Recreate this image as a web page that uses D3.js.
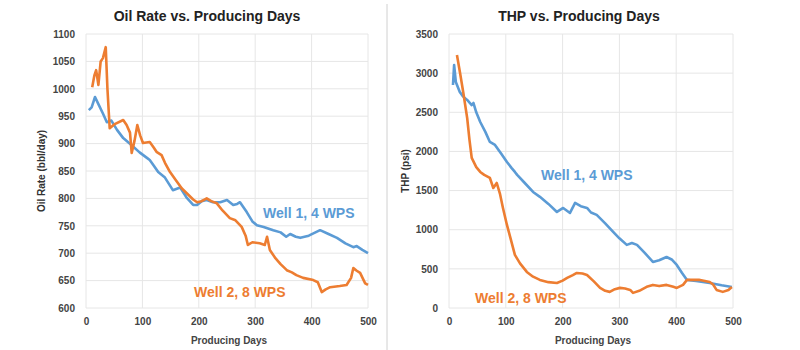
<!DOCTYPE html>
<html>
<head>
<meta charset="utf-8">
<script src="https://cdn.jsdelivr.net/npm/d3@7"></script>
<style>
  body { margin: 0; background: #fff; }
  text { font-family: "Liberation Sans Narrow", "Liberation Sans", Arial, sans-serif; }
</style>
</head>
<body>
<script>
// Data: [producing day, value]
var oilWell1 = [[5,961],[10,966],[16,985],[22,972],[30,955],[37,939],[45,942],[55,925],[66,910],[80,898],[95,884],[108,874],[113,870],[120,860],[128,848],[140,838],[154,815],[167,820],[178,802],[190,788],[197,788],[205,795],[214,797],[225,793],[238,793],[250,797],[261,788],[268,790],[273,793],[285,775],[295,758],[303,751],[315,748],[332,742],[345,738],[355,730],[362,735],[372,730],[380,728],[395,732],[405,737],[415,742],[430,735],[445,728],[460,718],[474,711],[480,713],[490,706],[500,700]];
var oilWell2 = [[11,1003],[15,1025],[18,1034],[22,1007],[26,1050],[30,1056],[35,1076],[38,1000],[42,928],[50,935],[66,943],[72,934],[78,920],[81,883],[86,905],[91,934],[96,915],[101,901],[113,903],[120,893],[125,885],[134,879],[140,865],[149,848],[160,832],[170,818],[180,808],[190,798],[197,793],[205,795],[214,800],[222,795],[232,791],[242,778],[255,764],[265,760],[276,748],[283,732],[287,715],[295,720],[308,718],[317,715],[321,730],[326,706],[335,692],[345,680],[356,669],[365,665],[373,660],[385,655],[403,651],[411,647],[418,629],[425,634],[433,638],[450,640],[462,642],[470,655],[474,673],[480,668],[486,664],[495,645],[500,642]];

var thpWell1 = [[7,2849],[9,3104],[12,2887],[19,2760],[25,2700],[32,2657],[40,2593],[43,2619],[48,2500],[55,2376],[64,2250],[72,2121],[81,2083],[92,1970],[102,1865],[110,1790],[116,1738],[120,1700],[133,1600],[148,1482],[160,1420],[175,1330],[190,1227],[201,1278],[213,1214],[222,1342],[232,1300],[243,1278],[250,1220],[260,1189],[275,1080],[289,972],[300,890],[313,806],[322,830],[331,806],[345,700],[359,589],[370,610],[383,652],[392,620],[401,550],[410,450],[419,359],[435,345],[459,320],[480,290],[498,269]];
var thpWell2 = [[14,3232],[20,2980],[25,2760],[32,2427],[36,2150],[40,1917],[48,1800],[55,1738],[62,1700],[72,1661],[78,1533],[84,1597],[90,1450],[95,1278],[102,1061],[108,900],[116,678],[125,570],[137,461],[148,400],[160,359],[175,330],[190,320],[200,350],[208,384],[218,420],[225,448],[235,440],[243,422],[255,340],[266,257],[275,220],[283,206],[292,240],[301,257],[310,250],[319,231],[324,193],[335,220],[348,270],[359,295],[370,280],[383,295],[395,270],[401,257],[412,295],[419,359],[440,360],[459,333],[465,300],[471,231],[482,206],[492,230],[498,269]];

var xTicks = [0, 100, 200, 300, 400, 500];
var oilTicks = [600, 650, 700, 750, 800, 850, 900, 950, 1000, 1050, 1100];
var thpTicks = [0, 500, 1000, 1500, 2000, 2500, 3000, 3500];

var blue = "#5b9bd5", orange = "#ed7d31";

var svg = d3.select("body").append("svg").attr("width", 800).attr("height", 350);

// Trennlinie
svg.append("line").attr("x1", 387).attr("x2", 387).attr("y1", 4).attr("y2", 350)
  .attr("stroke", "#d0d0d0").attr("stroke-width", 1);

function drawPanel(opt) {
  var x = d3.scaleLinear().domain([0, 500]).range([opt.left, opt.right]);
  var y = d3.scaleLinear().domain(opt.yDomain).range([308, 34]);
  var g = svg.append("g");

  // gitter
  g.selectAll(".hg").data(opt.yTicks).enter().append("line")
    .attr("x1", opt.left).attr("x2", opt.right)
    .attr("y1", function(d) { return y(d); }).attr("y2", function(d) { return y(d); })
    .attr("stroke", "#e6e6e6");
  g.selectAll(".vg").data(xTicks).enter().append("line")
    .attr("y1", 34).attr("y2", 308)
    .attr("x1", function(d) { return x(d); }).attr("x2", function(d) { return x(d); })
    .attr("stroke", "#e6e6e6");

  // akser
  var yAxis = g.append("g").attr("transform", "translate(" + opt.left + ",0)")
    .call(d3.axisLeft(y).tickValues(opt.yTicks).tickSize(0).tickPadding(11).tickFormat(d3.format("d")));
  var xAxis = g.append("g").attr("transform", "translate(0,308)")
    .call(d3.axisBottom(x).tickValues(xTicks).tickSize(0).tickPadding(10).tickFormat(d3.format("d")));
  [xAxis, yAxis].forEach(function(a) {
    a.select(".domain").remove();
    a.selectAll("text").attr("fill", "#444").attr("font-size", 10).attr("font-weight", "bold")
      .style("font-family", "'Liberation Sans Narrow', Arial, sans-serif");
  });

  var line = d3.line().x(function(d) { return x(d[0]); }).y(function(d) { return y(d[1]); });
  g.append("path").datum(opt.s1).attr("d", line).attr("fill", "none")
    .attr("stroke", blue).attr("stroke-width", 2.6).attr("stroke-linejoin", "round");
  g.append("path").datum(opt.s2).attr("d", line).attr("fill", "none")
    .attr("stroke", orange).attr("stroke-width", 2.6).attr("stroke-linejoin", "round");

  g.append("text").attr("x", opt.titleX).attr("y", 21).attr("text-anchor", "middle")
    .attr("font-size", 14).attr("font-weight", "bold").attr("fill", "#222")
    .style("font-family", "Arial, sans-serif").text(opt.title);
  g.append("text").attr("x", (opt.left + opt.right) / 2 + 2).attr("y", 344).attr("text-anchor", "middle")
    .attr("font-size", 10).attr("font-weight", "bold").attr("fill", "#444").text("Producing Days");
  g.append("text").attr("transform", "translate(" + opt.yLabelX + ",171) rotate(-90)")
    .attr("text-anchor", "middle").attr("font-size", 10).attr("font-weight", "bold")
    .attr("fill", "#333").text(opt.yLabel);

  g.append("text").attr("x", opt.l1[0]).attr("y", opt.l1[1]).attr("fill", blue)
    .attr("font-size", 14).attr("font-weight", "bold").style("font-family", "Arial, sans-serif")
    .text("Well 1, 4 WPS");
  g.append("text").attr("x", opt.l2[0]).attr("y", opt.l2[1]).attr("fill", orange)
    .attr("font-size", 14).attr("font-weight", "bold").style("font-family", "Arial, sans-serif")
    .text("Well 2, 8 WPS");
}

drawPanel({
  left: 86, right: 368, yDomain: [600, 1100], yTicks: oilTicks,
  s1: oilWell1, s2: oilWell2,
  title: "Oil Rate vs. Producing Days", titleX: 207,
  yLabel: "Oil Rate (bbl/day)", yLabelX: 45,
  l1: [263, 218], l2: [194, 297]
});

drawPanel({
  left: 449, right: 733, yDomain: [0, 3500], yTicks: thpTicks,
  s1: thpWell1, s2: thpWell2,
  title: "THP vs. Producing Days", titleX: 579,
  yLabel: "THP (psi)", yLabelX: 409,
  l1: [541, 180], l2: [475, 303]
});
</script>
</body>
</html>
